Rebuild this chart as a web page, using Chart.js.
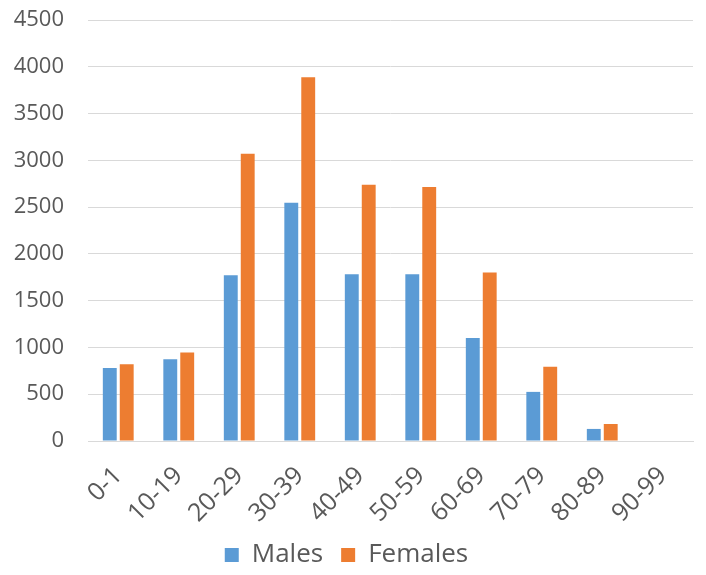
<!DOCTYPE html>
<html>
<head>
<meta charset="utf-8">
<script src="https://cdn.jsdelivr.net/npm/chart.js@4/dist/chart.umd.min.js"></script>
<style>
  body { margin: 0; background: #fff; }
  #wrap { width: 706px; height: 575px; }
</style>
</head>
<body>
<div id="wrap"><canvas id="ageChart"></canvas></div>
<script>
const ageGroups = ["0-1", "10-19", "20-29", "30-39", "40-49", "50-59", "60-69", "70-79", "80-89", "90-99"];
const males = [779, 875, 1771, 2546, 1782, 1782, 1100, 525, 129, 0];
const females = [821, 946, 3071, 3889, 2739, 2714, 1800, 793, 182, 0];
const yTicks = [0, 500, 1000, 1500, 2000, 2500, 3000, 3500, 4000, 4500];

const textColor = "#595959"; // dark gray text like the Office theme
const gridColor = "#D9D9D9";

const ctx = document.getElementById("ageChart").getContext("2d");
new Chart(ctx, {
  type: "bar",
  data: {
    labels: ageGroups,
    datasets: [
      { label: "Males", data: males, backgroundColor: "#5B9BD5", borderWidth: 0,
        categoryPercentage: 0.56, barPercentage: 0.82 },
      { label: "Females", data: females, backgroundColor: "#ED7D31", borderWidth: 0,
        categoryPercentage: 0.56, barPercentage: 0.82 },
    ],
  },
  options: {
    responsive: true,
    maintainAspectRatio: false,
    animation: false,
    layout: { padding: { top: 20, right: 13, bottom: -3, left: 0 } },
    scales: {
      x: {
        grid: { display: false },
        border: { display: true, color: gridColor, width: 1 },
        ticks: {
          color: textColor,
          font: { family: "Open Sans", size: 25 },
          minRotation: 45,
          maxRotation: 45,
          padding: 12,
        },
        afterFit: (scale) => {
          scale.height = 83;
          scale.paddingTop = 0;
        },
      },
      y: {
        min: 0,
        max: 4500,
        border: { display: false },
        grid: { color: gridColor, lineWidth: 1, drawTicks: false },
        afterBuildTicks: (scale) => { scale.ticks = yTicks.map((v) => ({ value: v })); },
        ticks: {
          color: textColor,
          font: { family: "Open Sans", size: 22 },
          padding: 24,
          callback: (value) => String(value), // no thousands separator
        },
        afterFit: (scale) => {
          scale.width = 88;
          scale.paddingTop = 0;
          scale.paddingBottom = 0;
        },
      },
    },
    plugins: {
      legend: {
        display: true,
        position: "bottom",
        labels: {
          color: textColor,
          font: { family: "Open Sans", size: 26 },
          boxWidth: 14,
          boxHeight: 14,
          padding: 18,
        },
      },
      tooltip: { enabled: false },
    },
  },
});
</script>
</body>
</html>
